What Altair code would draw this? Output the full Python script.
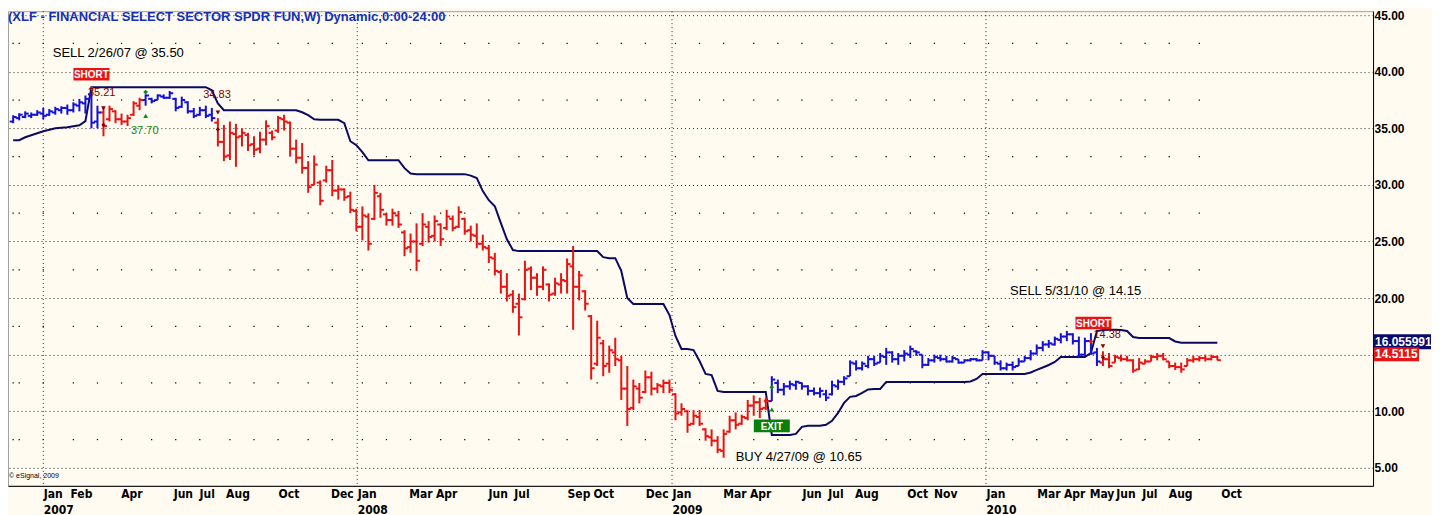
import altair as alt
import pandas as pd

# ---------------- data ----------------
FIRST_WEEK = "2006-11-27"   # weekly bars, one per Monday

HIGH = [
    36.16, 36.33, 36.50, 36.40, 36.60, 36.80, 36.70, 36.90, 36.95, 37.10,
    37.30, 37.60, 37.90, 38.60, 37.00, 36.80, 37.00, 36.60, 36.30, 36.20,
    37.40, 37.70, 38.00, 37.70, 38.00, 38.00, 38.30, 37.70, 37.80, 37.40,
    36.80, 36.90, 37.00, 36.80, 35.90, 35.30, 35.60, 35.40, 35.00, 34.60,
    34.30, 34.70, 35.70, 34.80, 36.10, 36.20, 35.60, 34.00, 33.70, 32.10,
    32.60, 30.40, 31.70, 32.20, 30.00, 29.70, 29.40, 27.90, 28.10, 27.50,
    30.00, 29.30, 27.50, 27.90, 27.70, 26.00, 25.70, 26.60, 27.50, 26.80,
    27.30, 26.60, 27.80, 27.30, 28.10, 27.10, 26.40, 26.60, 25.60, 24.70,
    24.00, 22.50, 22.20, 20.70, 20.40, 23.30, 22.80, 22.20, 22.80, 21.30,
    21.80, 22.20, 23.50, 24.60, 22.40, 20.70, 18.50, 18.00, 16.30, 15.80,
    16.50, 14.90, 14.00, 12.80, 12.50, 13.60, 13.50, 12.50, 12.80, 12.80,
    11.60, 10.70, 10.10, 10.10, 10.10, 8.50, 8.40, 7.80, 8.40, 9.60,
    9.90, 9.70, 11.00, 11.40, 11.20, 11.20, 13.10, 12.80, 12.50, 12.70,
    12.70, 12.50, 12.30, 12.10, 12.10, 11.90, 12.70, 12.80, 13.10, 14.50,
    14.50, 14.40, 14.90, 14.90, 15.15, 15.60, 15.30, 15.15, 15.40, 15.80,
    15.40, 15.00, 14.70, 15.00, 15.00, 14.90, 14.90, 14.60, 14.60, 14.70,
    14.70, 15.40, 15.30, 14.90, 14.50, 14.30, 14.40, 14.70, 14.90, 15.40,
    15.90, 16.20, 16.30, 16.60, 16.90, 17.10, 16.90, 16.60, 16.50, 16.90,
    15.60, 15.30, 15.15, 15.00, 15.00, 14.90, 14.60, 14.70, 14.60, 15.00,
    15.15, 15.15, 14.40, 14.30, 14.30, 14.70, 14.90, 14.90, 15.00, 15.00,
    14.90,
]
LOW = [
    35.45, 35.71, 35.90, 35.90, 36.10, 35.80, 36.10, 36.20, 36.30, 36.20,
    36.40, 36.50, 36.30, 35.00, 35.00, 34.30, 35.60, 35.45, 35.30, 35.20,
    36.10, 36.60, 37.00, 37.20, 37.50, 37.60, 37.60, 36.50, 36.80, 36.30,
    35.90, 36.10, 35.90, 35.60, 33.40, 32.10, 32.20, 31.60, 33.40, 33.00,
    32.60, 32.80, 33.50, 33.95, 34.60, 34.80, 32.50, 31.90, 31.00, 29.30,
    30.00, 28.20, 30.20, 29.00, 28.70, 28.60, 27.50, 25.90, 25.10, 24.20,
    26.90, 27.10, 26.40, 26.40, 26.20, 23.70, 24.00, 22.40, 24.60, 24.90,
    25.00, 24.60, 26.00, 25.90, 26.20, 25.60, 25.00, 24.40, 24.20, 23.10,
    22.00, 20.40, 19.70, 18.70, 16.70, 19.80, 20.70, 20.20, 20.70, 19.70,
    20.20, 20.40, 20.40, 17.20, 19.80, 18.90, 12.80, 14.00, 13.10, 13.40,
    14.00, 11.00, 8.70, 10.10, 10.70, 11.60, 11.40, 11.60, 11.60, 11.60,
    9.20, 9.60, 8.10, 8.80, 8.70, 7.40, 6.90, 6.30, 5.90, 8.10,
    8.40, 8.80, 9.20, 9.60, 9.40, 10.10, 10.90, 11.60, 11.40, 11.90,
    11.90, 11.90, 11.40, 11.40, 11.20, 10.90, 11.40, 11.90, 12.30, 13.10,
    13.60, 13.60, 13.80, 14.00, 14.30, 14.10, 14.30, 14.10, 14.40, 14.70,
    14.90, 13.80, 14.00, 14.30, 14.40, 14.30, 14.30, 14.20, 14.30, 14.40,
    14.40, 14.50, 14.50, 14.10, 13.60, 13.60, 13.60, 14.00, 14.40, 14.50,
    15.00, 15.30, 15.60, 15.80, 16.00, 16.20, 15.90, 14.70, 14.90, 15.00,
    14.00, 14.00, 13.80, 14.30, 14.40, 14.40, 13.40, 13.65, 14.20, 14.40,
    14.50, 14.50, 13.80, 13.65, 13.40, 14.00, 14.30, 14.40, 14.40, 14.50,
    14.50,
]
OPEN = [
    35.60, 35.90, 36.00, 36.10, 36.20, 36.30, 36.20, 36.40, 36.60, 36.80,
    36.60, 37.00, 37.20, 38.00, 35.60, 36.40, 35.80, 36.50, 35.80, 35.60,
    36.20, 37.00, 37.50, 37.60, 37.50, 37.80, 37.70, 37.60, 36.90, 37.30,
    36.50, 36.20, 36.60, 36.20, 35.50, 33.80, 32.60, 34.50, 34.30, 34.40,
    33.60, 33.20, 34.00, 34.60, 34.80, 35.80, 35.50, 33.20, 32.40, 31.50,
    30.00, 30.20, 30.40, 31.30, 29.50, 29.60, 29.00, 27.70, 26.30, 27.20,
    27.00, 29.00, 27.40, 26.90, 27.30, 25.80, 24.50, 25.00, 24.80, 26.30,
    25.50, 26.50, 26.20, 27.00, 26.30, 27.00, 26.00, 25.50, 24.80, 24.40,
    23.50, 22.30, 21.00, 20.30, 19.50, 19.90, 22.60, 21.80, 21.00, 21.20,
    20.40, 21.20, 21.50, 22.80, 21.00, 20.60, 18.40, 14.20, 16.00, 14.20,
    15.20, 14.50, 12.00, 10.30, 12.00, 11.70, 13.00, 12.00, 12.20, 12.50,
    11.50, 9.90, 10.00, 8.90, 9.50, 8.40, 7.70, 7.40, 6.50, 8.20,
    9.20, 8.90, 9.40, 10.50, 10.80, 10.30, 10.90, 12.50, 11.90, 12.20,
    12.30, 12.50, 12.20, 11.80, 11.60, 11.50, 11.50, 12.20, 12.60, 13.10,
    14.20, 13.80, 14.00, 14.60, 14.30, 14.80, 15.20, 14.60, 14.90, 15.00,
    15.30, 15.00, 14.10, 14.50, 14.70, 14.60, 14.40, 14.60, 14.30, 14.50,
    14.60, 14.50, 15.20, 14.90, 14.20, 13.80, 14.10, 14.00, 14.40, 14.70,
    15.10, 15.60, 15.90, 15.90, 16.30, 16.60, 16.80, 16.20, 15.00, 16.20,
    15.20, 14.30, 14.60, 14.30, 14.70, 14.60, 14.50, 13.70, 14.20, 14.40,
    14.80, 14.90, 14.40, 14.00, 13.90, 14.00, 14.50, 14.60, 14.70, 14.60,
    14.80,
]
CLOSE = [
    36.00, 36.20, 36.30, 36.20, 36.40, 36.10, 36.50, 36.70, 36.80, 36.60,
    37.10, 37.30, 37.60, 35.50, 36.40, 35.20, 36.70, 35.80, 35.60, 35.90,
    37.20, 37.50, 37.90, 37.40, 37.90, 37.70, 38.10, 36.80, 37.50, 36.50,
    36.10, 36.60, 36.10, 35.90, 33.80, 32.50, 34.60, 34.20, 34.60, 33.50,
    33.10, 34.00, 35.20, 34.20, 35.90, 35.60, 33.20, 32.40, 31.50, 29.80,
    31.80, 28.60, 31.30, 29.50, 29.60, 28.90, 27.80, 26.30, 27.30, 24.80,
    29.30, 27.80, 26.90, 27.50, 26.50, 24.40, 25.00, 23.30, 26.50, 25.40,
    26.80, 25.20, 27.20, 26.20, 27.60, 25.90, 25.60, 24.80, 24.50, 23.60,
    22.40, 21.00, 20.20, 19.20, 18.30, 22.50, 21.80, 21.00, 22.50, 20.30,
    21.30, 21.60, 23.00, 21.00, 22.00, 19.50, 13.80, 16.50, 14.00, 15.40,
    14.60, 12.00, 10.20, 12.20, 11.20, 13.00, 12.00, 12.30, 12.50, 11.90,
    9.80, 10.20, 8.80, 9.60, 8.90, 7.80, 7.40, 6.60, 8.00, 9.20,
    8.80, 9.50, 10.50, 10.80, 10.20, 10.90, 12.80, 11.90, 12.20, 12.40,
    12.60, 12.20, 11.80, 11.60, 11.80, 11.20, 12.30, 12.60, 12.90, 14.30,
    13.80, 14.20, 14.60, 14.20, 14.90, 15.20, 14.60, 14.90, 15.10, 15.50,
    15.20, 14.10, 14.50, 14.80, 14.60, 14.40, 14.70, 14.30, 14.50, 14.60,
    14.50, 15.20, 14.90, 14.30, 13.80, 14.10, 13.90, 14.40, 14.70, 15.10,
    15.60, 15.90, 16.00, 16.40, 16.60, 16.80, 16.20, 15.00, 16.20, 15.10,
    14.40, 14.60, 14.00, 14.80, 14.60, 14.50, 13.60, 14.30, 14.40, 14.80,
    14.90, 14.60, 14.00, 13.90, 13.70, 14.50, 14.60, 14.70, 14.60, 14.80,
    14.51,
]
STOP = [
    33.95, 33.95, 34.21, 34.39, 34.57, 34.74, 34.87, 35.00, 35.05, 35.10,
    35.19, 35.27, 35.63, 38.63, 38.63, 38.63, 38.63, 38.63, 38.63, 38.63,
    38.63, 38.63, 38.63, 38.63, 38.63, 38.63, 38.63, 38.63, 38.63, 38.63,
    38.63, 38.63, 38.63, 38.36, 37.20, 36.60, 36.60, 36.60, 36.60, 36.60,
    36.60, 36.60, 36.60, 36.60, 36.60, 36.60, 36.60, 36.60, 36.42, 36.16,
    35.80, 35.75, 35.75, 35.75, 35.75, 35.45, 33.86, 33.51, 32.90, 32.18,
    32.18, 32.18, 32.18, 32.18, 32.18, 31.48, 31.00, 30.95, 30.95, 30.95,
    30.95, 30.95, 30.95, 30.95, 30.95, 30.95, 30.82, 30.60, 29.45, 28.65,
    28.12, 26.62, 25.20, 24.24, 24.15, 24.15, 24.15, 24.15, 24.15, 24.15,
    24.15, 24.15, 24.15, 24.15, 24.15, 24.15, 24.15, 24.15, 23.62, 23.53,
    23.53, 22.40, 20.00, 19.47, 19.47, 19.47, 19.47, 19.47, 19.47, 18.50,
    16.65, 15.50, 15.50, 15.41, 14.44, 13.30, 13.20, 11.80, 11.71, 11.71,
    11.71, 11.71, 11.71, 11.71, 11.71, 11.71, 7.91, 7.91, 7.91, 7.91,
    8.00, 8.62, 8.71, 8.71, 8.71, 8.80, 9.15, 9.85, 10.74, 11.27,
    11.35, 11.62, 11.93, 11.97, 11.97, 12.59, 12.59, 12.59, 12.59, 12.59,
    12.59, 12.59, 12.59, 12.59, 12.59, 12.59, 12.59, 12.59, 12.59, 12.63,
    12.85, 13.30, 13.30, 13.30, 13.30, 13.30, 13.30, 13.30, 13.30, 13.43,
    13.65, 13.87, 14.09, 14.36, 14.80, 14.80, 14.80, 14.80, 14.80, 15.15,
    17.09, 17.18, 17.20, 17.20, 17.18, 17.09, 16.56, 16.47, 16.47, 16.47,
    16.47, 16.47, 16.47, 16.17, 16.06, 16.06, 16.06, 16.06, 16.06, 16.06,
    16.06,
]
assert len(HIGH) == len(LOW) == len(OPEN) == len(CLOSE) == len(STOP) == 201

REGIME_START = ["2006-11-27", "2007-03-12", "2007-04-30", "2007-07-23", "2009-04-27", "2010-05-17"]
REGIME_SIDE = ["long", "short", "long", "short", "long", "short"]

MONTH_TICKS = [
    "2007-01-01", "2007-02-01", "2007-04-01", "2007-06-01", "2007-07-01", "2007-08-01", "2007-10-01", "2007-12-01",
    "2008-01-01", "2008-03-01", "2008-04-01", "2008-06-01", "2008-07-01", "2008-09-01", "2008-10-01", "2008-12-01",
    "2009-01-01", "2009-03-01", "2009-04-01", "2009-06-01", "2009-07-01", "2009-08-01", "2009-10-01", "2009-11-01",
    "2010-01-01", "2010-03-01", "2010-04-01", "2010-05-01", "2010-06-01", "2010-07-01", "2010-08-01", "2010-10-01",
]
YEAR_LINES = ["2007-01-01", "2008-01-01", "2009-01-01", "2010-01-01"]
PRICE_TICKS = [5, 10, 15, 20, 25, 30, 35, 40, 45]
HALF_LEVELS = [7.5, 12.5, 17.5, 22.5, 27.5, 32.5, 37.5, 42.5]
X_START, X_END = "2006-11-21", "2011-03-27"
Y_MIN, Y_MAX = 3.41, 45.35

TITLE = "(XLF - FINANCIAL SELECT SECTOR SPDR FUN,W) Dynamic,0:00-24:00"
COPYRIGHT = "\u00a9 eSignal, 2009"

SIGNAL_TEXT = ["SELL 2/26/07 @ 35.50", "BUY 4/27/09 @ 10.65", "SELL 5/31/10 @ 14.15"]
SIGNAL_TEXT_DATE = ["2007-01-12", "2009-03-16", "2010-01-29"]
SIGNAL_TEXT_PRICE = [41.63, 5.97, 20.62]

SHORT_DATE = ["2007-02-26", "2010-05-06"]
SHORT_PRICE = [39.78, 17.80]
EXIT_DATE = ["2009-04-27"]
EXIT_PRICE = [8.71]

STOP_TAG_TEXT = ["35.21", "34.83", "14.38"]
STOP_TAG_DATE = ["2007-02-22", "2007-07-06", "2010-05-06"]
STOP_TAG_PRICE = [38.10, 37.92, 16.70]
GREEN_TAG_TEXT = ["37.70"]
GREEN_TAG_DATE = ["2007-04-13"]
GREEN_TAG_PRICE = [34.74]

RED_MARK_DATE = ["2007-02-26", "2009-04-20", "2010-05-03"]
RED_MARK_PRICE = [38.54, 10.90, 16.18]
DOWN_ARROW_DATE = ["2007-03-12", "2007-07-23", "2010-05-17"]
DOWN_ARROW_PRICE = [36.77, 36.40, 15.74]
DARK_DOT_DATE = ["2007-03-12", "2007-07-23", "2010-05-17"]
DARK_DOT_PRICE = [35.30, 34.90, 14.77]
GREEN_DOT_DATE = ["2007-04-30", "2009-04-27"]
GREEN_DOT_PRICE = [38.20, 12.12]
UP_ARROW_DATE = ["2007-04-30", "2009-04-27"]
UP_ARROW_PRICE = [36.10, 10.15]

LAST_STOP = [16.055991]
LAST_STOP_TEXT = ["16.055991"]
LAST_CLOSE = [14.5115]
LAST_CLOSE_TEXT = ["14.5115"]

# ---------------- styles ----------------
BG = "#FFFBF0"
BLUE = "#1212DA"
RED = "#E81414"
NAVY = "#0A0A62"
DARKRED = "#800000"
GREEN = "#118811"
BOX_GREEN = "#0A800A"
TITLE_BLUE = "#1430B4"
FONT = "Liberation Sans"
NARROW = "Liberation Sans Narrow, DejaVu Sans Condensed, Liberation Sans, sans-serif"
W, H = 1366, 475


def dt(s):
    y, m, d = (int(v) for v in s.split("-"))
    return alt.DateTime(year=y, month=m, date=d)


def rect_path(half_h):
    return f"M-1,-{half_h}L1,-{half_h}L1,{half_h}L-1,{half_h}Z"


weeks = pd.date_range(FIRST_WEEK, periods=len(CLOSE), freq="7D")
starts = pd.to_datetime(REGIME_START)
side = [REGIME_SIDE[int((starts <= d).sum()) - 1] for d in weeks]
bars = pd.DataFrame({"date": weeks, "high": HIGH, "low": LOW, "open": OPEN,
                     "close": CLOSE, "side": side})
stop = pd.DataFrame({"date": weeks, "stop": STOP})
month_first = bars.groupby(bars["date"].dt.to_period("M"))["date"].min().tolist()
dots = pd.DataFrame([{"date": d, "level": lv} for d in month_first for lv in HALF_LEVELS])
years = pd.DataFrame({"date": pd.to_datetime(YEAR_LINES)})

xscale = alt.Scale(domain=[dt(X_START), dt(X_END)], nice=False)
xaxis = alt.Axis(
    values=[dt(s) for s in MONTH_TICKS],
    labelExpr="month(datum.value) == 0 ? [timeFormat(datum.value, '%b'), timeFormat(datum.value, '%Y')] : timeFormat(datum.value, '%b')",
    labelAlign="left", labelBaseline="top", labelPadding=3, labelFont=NARROW,
    labelFontSize=12, labelFontWeight="bold", labelLineHeight=16, labelColor="#000000",
    labelOverlap=False, labelFlush=False, labelBound=False,
    grid=False, ticks=False, domain=True, domainColor="#000000", domainWidth=1,
    title=None,
)
yscale = alt.Scale(domain=[Y_MIN, Y_MAX], nice=False, zero=False)
yaxis = alt.Axis(
    orient="right", values=PRICE_TICKS,
    labelExpr="datum.value == 15 ? '' : format(datum.value, '.2f')",
    labelFont=FONT, labelFontSize=12, labelFontWeight="bold", labelColor="#000000",
    labelPadding=1, ticks=False, domain=True, domainColor="#000000", domainWidth=1,
    grid=True, gridColor="#000000", gridDash=[1, 3], gridWidth=1, gridOpacity=0.85,
    title=None,
)


def X(field="date"):
    return alt.X(f"{field}:T", scale=xscale, axis=xaxis)


def Y(field):
    return alt.Y(f"{field}:Q", scale=yscale, axis=yaxis)


side_color = alt.Color("side:N", scale=alt.Scale(domain=["long", "short"], range=[BLUE, RED]),
                       legend=None)

layers = []

# grid dots at half levels, one per month
layers.append(alt.Chart(dots).mark_square(size=1.5, color="#000000", opacity=1)
              .encode(x=X(), y=Y("level")))
# year separators
layers.append(alt.Chart(years).mark_rule(color=DARKRED, strokeDash=[1, 3], strokeWidth=1)
              .encode(x=X()))
# trailing stop line
layers.append(alt.Chart(stop).mark_line(color=NAVY, strokeWidth=2)
              .encode(x=X(), y=Y("stop")))
# OHLC bars
base = alt.Chart(bars)
layers.append(base.mark_rule(strokeWidth=2).encode(x=X(), y=Y("high"), y2="low", color=side_color))
layers.append(base.mark_rule(strokeWidth=2, xOffset=-3.5, x2Offset=0)
              .encode(x=X(), x2="date", y=Y("open"), color=side_color))
layers.append(base.mark_rule(strokeWidth=2, xOffset=0, x2Offset=3.5)
              .encode(x=X(), x2="date", y=Y("close"), color=side_color))


def pts(dates, prices, extra=None):
    d = {"date": pd.to_datetime(dates), "price": prices}
    if extra:
        d.update(extra)
    return pd.DataFrame(d)


# signal markers
layers.append(alt.Chart(pts(RED_MARK_DATE, RED_MARK_PRICE)).mark_point(
    shape="diamond", filled=True, size=22, color=RED, opacity=1).encode(x=X(), y=Y("price")))
layers.append(alt.Chart(pts(DOWN_ARROW_DATE, DOWN_ARROW_PRICE)).mark_point(
    shape="triangle-down", filled=True, size=22, color=DARKRED, opacity=1).encode(x=X(), y=Y("price")))
layers.append(alt.Chart(pts(DARK_DOT_DATE, DARK_DOT_PRICE)).mark_point(
    shape="diamond", filled=True, size=18, color=DARKRED, opacity=1).encode(x=X(), y=Y("price")))
layers.append(alt.Chart(pts(GREEN_DOT_DATE, GREEN_DOT_PRICE)).mark_point(
    shape="diamond", filled=True, size=22, color=GREEN, opacity=1).encode(x=X(), y=Y("price")))
layers.append(alt.Chart(pts(UP_ARROW_DATE, UP_ARROW_PRICE)).mark_point(
    shape="triangle-up", filled=True, size=22, color=GREEN, opacity=1).encode(x=X(), y=Y("price")))

# stop value tags
layers.append(alt.Chart(pts(STOP_TAG_DATE, STOP_TAG_PRICE, {"t": STOP_TAG_TEXT})).mark_text(
    align="left", baseline="middle", font=FONT, fontSize=11, color=DARKRED)
    .encode(x=X(), y=Y("price"), text="t:N"))
layers.append(alt.Chart(pts(GREEN_TAG_DATE, GREEN_TAG_PRICE, {"t": GREEN_TAG_TEXT})).mark_text(
    align="left", baseline="middle", font=FONT, fontSize=11, color=GREEN)
    .encode(x=X(), y=Y("price"), text="t:N"))

# signal descriptions
layers.append(alt.Chart(pts(SIGNAL_TEXT_DATE, SIGNAL_TEXT_PRICE, {"t": SIGNAL_TEXT})).mark_text(
    align="left", baseline="middle", font=FONT, fontSize=13, color="#000000")
    .encode(x=X(), y=Y("price"), text="t:N"))

# SHORT / EXIT boxes
short_df = pts(SHORT_DATE, SHORT_PRICE, {"t": ["SHORT"] * len(SHORT_DATE)})
exit_df = pts(EXIT_DATE, EXIT_PRICE, {"t": ["EXIT"] * len(EXIT_DATE)})
layers.append(alt.Chart(short_df).mark_point(shape=rect_path(0.35), filled=True, size=36 * 36,
                                             color=RED, opacity=1, strokeWidth=0)
              .encode(x=X(), y=Y("price")))
layers.append(alt.Chart(exit_df).mark_point(shape=rect_path(0.35), filled=True, size=36 * 36,
                                            color=BOX_GREEN, opacity=1, strokeWidth=0)
              .encode(x=X(), y=Y("price")))
for df_ in (short_df, exit_df):
    layers.append(alt.Chart(df_).mark_text(align="center", baseline="middle", font=FONT,
                                           fontSize=10, fontWeight="bold", color="#FFFFFF", dy=1)
                  .encode(x=X(), y=Y("price"), text="t:N"))

# last-value boxes on the price axis
stop_box = pd.DataFrame({"price": LAST_STOP, "t": LAST_STOP_TEXT})
close_box = pd.DataFrame({"price": LAST_CLOSE, "t": LAST_CLOSE_TEXT})
layers.append(alt.Chart(stop_box).mark_point(shape=rect_path(0.263), filled=True, size=57 * 57,
                                             color="#0A0A6E", opacity=1, strokeWidth=0, yOffset=-1)
              .encode(x=alt.value(W + 1 + 28.5), y=Y("price")))
layers.append(alt.Chart(stop_box).mark_text(align="left", baseline="middle", font=FONT, fontSize=12,
                                            fontWeight="bold", color="#FFFFFF", yOffset=-1)
              .encode(x=alt.value(W + 2), y=Y("price"), text="t:N"))
layers.append(alt.Chart(close_box).mark_point(shape=rect_path(0.311), filled=True, size=45 * 45,
                                              color=RED, opacity=1, strokeWidth=0, yOffset=-6)
              .encode(x=alt.value(W + 1 + 22.5), y=Y("price")))
layers.append(alt.Chart(close_box).mark_text(align="left", baseline="middle", font=FONT, fontSize=12,
                                             fontWeight="bold", color="#FFFFFF", yOffset=-6)
              .encode(x=alt.value(W + 2), y=Y("price"), text="t:N"))

# title and copyright
layers.append(alt.Chart(pd.DataFrame({"t": [TITLE]})).mark_text(
    align="left", baseline="top", font=FONT, fontSize=13, fontWeight="bold", color=TITLE_BLUE)
    .encode(x=alt.value(0), y=alt.value(0), text="t:N"))
layers.append(alt.Chart(pd.DataFrame({"t": [COPYRIGHT]})).mark_text(
    align="left", baseline="middle", font=FONT, fontSize=7, color="#000000")
    .encode(x=alt.value(1), y=alt.value(H - 10), text="t:N"))

chart = (
    alt.layer(*layers)
    .properties(width=W, height=H, background=BG,
                padding={"left": 0, "right": 0, "top": 0, "bottom": 0})
    .configure_view(fill=BG, stroke="#A0A0A0", strokeWidth=1)
)

chart.save("out.html", embed_options={"renderer": "svg", "actions": False})
